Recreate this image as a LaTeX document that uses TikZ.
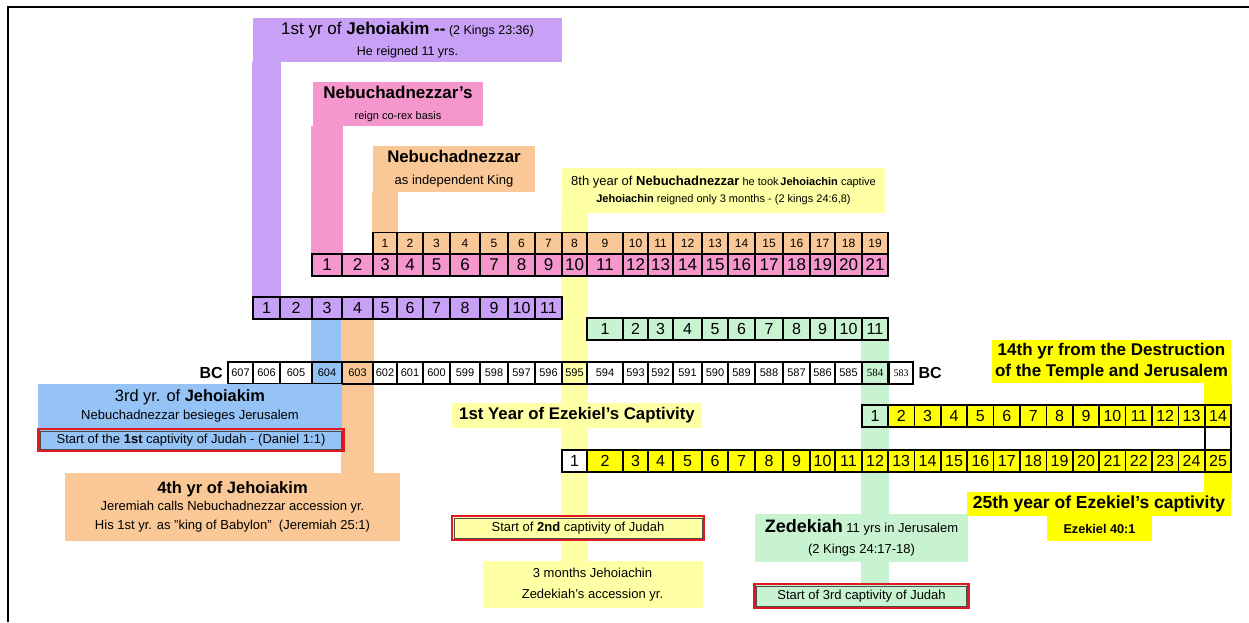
\documentclass[tikz,border=0pt]{standalone}
\usepackage{fontspec}
\setmainfont{Liberation Sans}
\newfontfamily\numserif{Liberation Serif}
\usetikzlibrary{positioning, calc, backgrounds}

\definecolor{jehpurple}{RGB}{200,160,245}
\definecolor{nebpink}{RGB}{245,150,205}
\definecolor{nebtan}{RGB}{250,200,150}
\definecolor{softyellow}{RGB}{255,255,165}
\definecolor{brightyellow}{RGB}{255,255,0}
\definecolor{zedgreen}{RGB}{200,243,208}
\definecolor{jehblue}{RGB}{150,195,245}
\definecolor{capred}{RGB}{225,25,35}

\newcommand{\fsz}[1]{\fontsize{#1}{#1}\selectfont}

% left edges of the year columns, 607 BC = column 0
\def\colx{{228,253,280,312,342,373,397,423,450,480,508,535,562,587,623,648,673,702,728,755,783,810,835,862,888,912}}

% one year cell: options, name, column, y, text
\newcommand{\colcell}[5][]{%
  \ifnum#3<24
    \pgfmathsetmacro{\xa}{\colx[#3]}\pgfmathsetmacro{\xb}{\colx[#3+1]}%
  \else
    \pgfmathsetmacro{\xa}{888+26.4*(#3-24)}\pgfmathsetmacro{\xb}{\xa+26.4}%
  \fi
  \pgfmathsetmacro{\cw}{\xb-\xa}%
  \node[yrcell, minimum width=\cw pt, #1] (#2) at ({(\xa+\xb)/2},#4) {#5};}

% one row of numbered cells: prefix, y, column of cell 1, from, to, fill, size
\newcommand{\cellrow}[7]{%
  \foreach \n in {#4,...,#5}{%
    \pgfmathtruncatemacro{\k}{#3+\n-1}%
    \colcell[fill=#6, font=\fsz{#7}]{#1\n}{\k}{#2}{\n}
  }}

\begin{document}
\begin{tikzpicture}[
    x=1pt, y=-1pt,
    yrcell/.style={draw, line width=1.6pt, minimum height=22pt, inner sep=0pt},
    tagbox/.style={inner sep=0pt, align=center},
    capbox/.style={draw=capred, line width=2.8pt, inner sep=0pt, align=center, font=\fsz{13}},
    capline/.style={line width=0.5pt, black!70}
]
\useasboundingbox (0,0) rectangle (1249,622);
\draw[line width=1.2pt] (8,622) -- (8,7) -- (1249,7);

% Label boxes above the timeline
\node[tagbox, fill=jehpurple, minimum width=309pt, minimum height=44pt, font=\fsz{12.5}] (jehbox) at (407.5,40)
  {{\fsz{17}1st yr of \textbf{Jehoiakim -{}-}} (2 Kings 23:36)\\[7pt] He reigned 11 yrs.};
\node[tagbox, fill=nebpink, minimum width=170pt, minimum height=44pt, font=\fsz{11}] (nebbox) at (398,104)
  {{\fsz{17}\bfseries Nebuchadnezzar's}\\[10pt] reign co-rex basis};
\node[tagbox, fill=nebtan, minimum width=162pt, minimum height=46pt, font=\fsz{13}] (indbox) at (454,169)
  {{\fsz{16.8}\bfseries Nebuchadnezzar}\\[9pt] as independent King};
\node[tagbox, fill=softyellow, minimum width=323pt, minimum height=45pt, font=\fsz{11}] (takebox) at (723.5,190.5)
  {{\fsz{13}8th year of \textbf{Nebuchadnezzar}} he took\,\textbf{Jehoiachin} captive\\[6pt] \textbf{Jehoiachin} reigned only 3 months - (2 kings 24:6,8)};
\node[tagbox, fill=brightyellow, minimum width=239pt, minimum height=43pt, font=\fsz{17}\bfseries] (destbox) at (1111.5,361.5)
  {14th yr from the Destruction\\[4pt] of the Temple and Jerusalem};

% Year rows
\cellrow{o}{243.5}{5}{1}{19}{nebtan}{12}
\cellrow{p}{265}{3}{1}{21}{nebpink}{17}
\cellrow{j}{308}{1}{1}{11}{jehpurple}{16}
\cellrow{z}{329}{13}{1}{11}{zedgreen}{16}

% BC timeline
\foreach \yr/\fc [count=\k from 0] in {607/white,606/white,605/white,604/jehblue,603/nebtan,602/white,601/white,600/white,599/white,598/white,597/white,596/white,595/softyellow,594/white,593/white,592/white,591/white,590/white,589/white,588/white,587/white,586/white,585/white}
  {\colcell[fill=\fc, font=\fsz{11}]{y\yr}{\k}{373}{\yr}}
\colcell[fill=zedgreen, font=\numserif\fsz{11}]{y584}{23}{373}{584}
\colcell[fill=white, font=\numserif\fsz{10}, minimum width=24pt]{y583}{24}{373}{583}
\node[font=\fsz{16}\bfseries, left=1pt of y607] (bcleft) {BC};
\node[font=\fsz{16}\bfseries, right=1pt of y583] (bcright) {BC};

% Rows below the timeline
\cellrow{d}{416}{23}{1}{1}{zedgreen}{16}
\cellrow{d}{416}{23}{2}{14}{brightyellow}{16}
\cellrow{e}{461}{12}{1}{1}{white}{16}
\cellrow{e}{461}{12}{2}{25}{brightyellow}{16}
\node[yrcell, fill=white, minimum width=26.4pt, minimum height=23pt] (gapcell) at ($(d14)!0.5!(e25)$) {};

% Label boxes below the timeline
\node[tagbox, fill=jehblue, minimum width=304pt, minimum height=44pt, font=\fsz{13}] (thirdbox) at (190,406)
  {{\fsz{16.4}3rd yr. of \textbf{Jehoiakim}}\\[5pt] Nebuchadnezzar besieges Jerusalem};
\node[capbox, fill=jehblue, minimum width=305pt, minimum height=22pt] (red1) at (191,440)
  {Start of the \textbf{1st} captivity of Judah - (Daniel 1:1)};
\node[tagbox, fill=nebtan, minimum width=335pt, minimum height=68pt, font=\fsz{13}] (fourthbox) at (232.5,507)
  {{\fsz{16.5}\bfseries 4th yr of Jehoiakim}\\[4pt] Jeremiah calls Nebuchadnezzar accession yr.\\[6pt] His 1st yr. as \symbol{34}king of Babylon\symbol{34}\ \ (Jeremiah 25:1)};
\node[tagbox, fill=softyellow, minimum width=250pt, minimum height=25pt, font=\fsz{16.8}\bfseries] (ezbox) at (577,415)
  {1st Year of Ezekiel's Captivity};
\node[capbox, fill=softyellow, minimum width=252pt, minimum height=24pt] (red2) at (578,528)
  {Start of \textbf{2nd} captivity of Judah};
\node[tagbox, fill=softyellow, minimum width=220pt, minimum height=47pt, font=\fsz{13}] (monthsbox) at (592.5,584.5)
  {3 months Jehoiachin\\[8pt] Zedekiah's accession yr.};
\node[tagbox, fill=zedgreen, minimum width=213pt, minimum height=48pt, font=\fsz{13}] (zedbox) at (861.5,537.5)
  {{\fsz{18}\bfseries Zedekiah} 11 yrs in Jerusalem\\[8pt] (2 Kings 24:17-18)};
\node[capbox, fill=zedgreen, minimum width=214pt, minimum height=24pt] (red3) at (861.5,596)
  {Start of 3rd captivity of Judah};
\node[tagbox, fill=brightyellow, minimum width=264pt, minimum height=24pt, font=\fsz{17.5}\bfseries] (fifthbox) at (1099,504)
  {25th year of Ezekiel's captivity};
\node[tagbox, fill=brightyellow, minimum width=105pt, minimum height=25pt, font=\fsz{12.7}\bfseries] (ezref) at (1099.5,528.5)
  {Ezekiel 40:1};
\foreach \r in {red1,red2,red3}
  \draw[capline] ([xshift=3.6pt,yshift=-3.6pt]\r.north west) rectangle ([xshift=-3.6pt,yshift=3.6pt]\r.south east);

% Colour strips joining boxes and years
\begin{scope}[on background layer]
\fill[jehpurple] (j1.north west) rectangle (jehbox.south -| j1.north east);
\fill[nebpink] (p1.north west) rectangle (nebbox.south -| p1.north east);
\fill[nebtan] (o1.north west) rectangle (indbox.south -| o1.north east);
\fill[softyellow] (takebox.south -| y595.west) rectangle (monthsbox.north -| y595.east);
\fill[jehblue] (j3.south west) rectangle (thirdbox.north -| j3.south east);
\fill[nebtan] (j4.south west) rectangle (fourthbox.north -| j4.south east);
\fill[zedgreen] (z11.south west) rectangle (red3.north -| z11.south east);
\fill[brightyellow] (destbox.south -| d14.west) rectangle (fifthbox.north -| d14.east);
\end{scope}

\end{tikzpicture}
\end{document}
